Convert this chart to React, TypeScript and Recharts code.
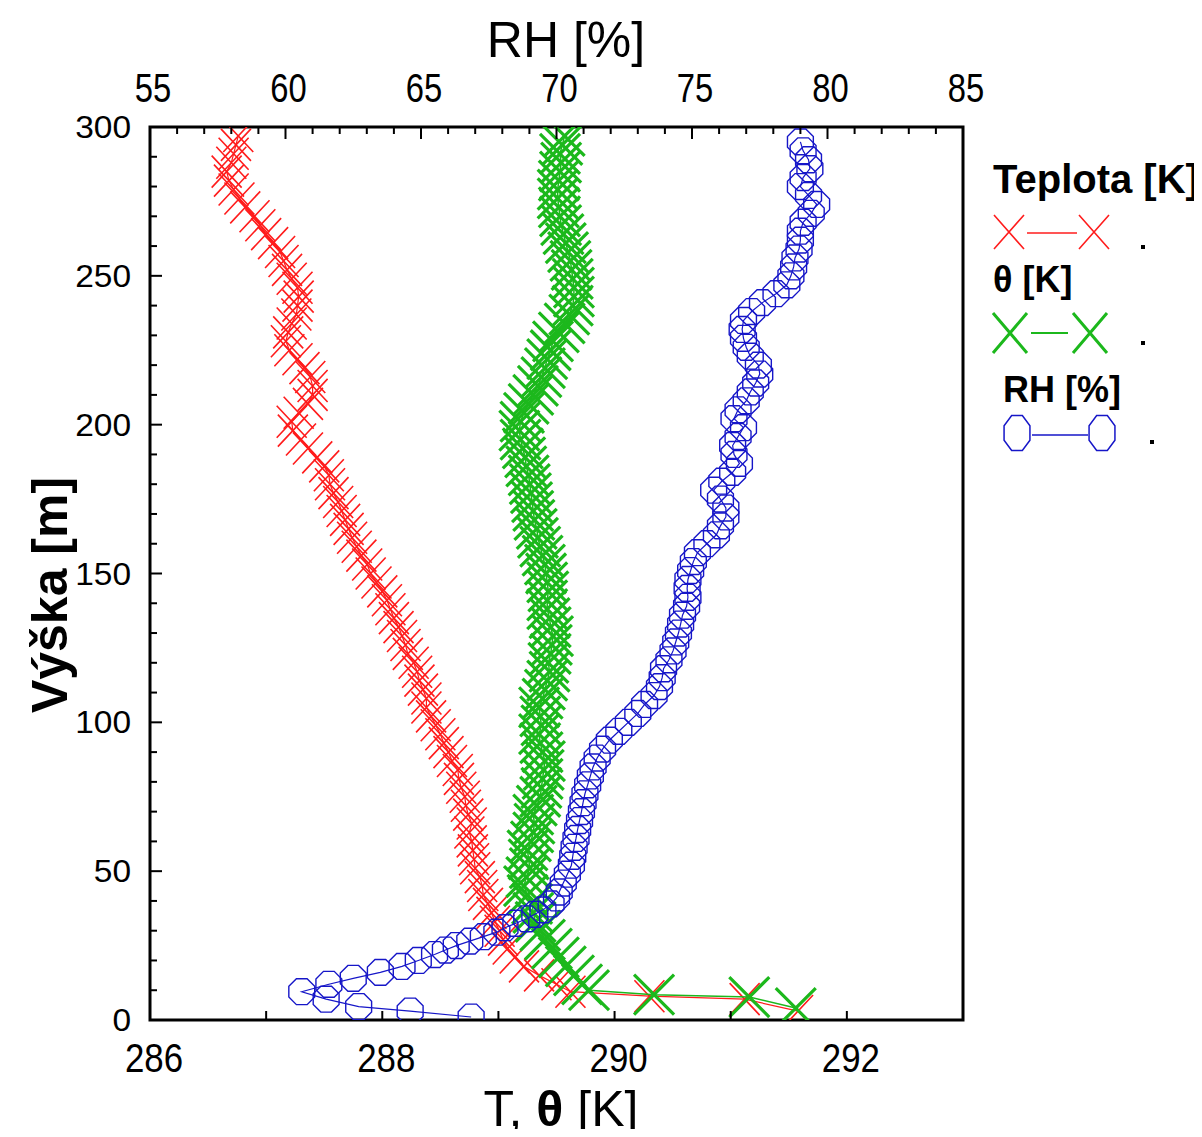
import React from 'react';
import { ScatterChart, Scatter, XAxis, YAxis, ReferenceArea } from 'recharts';

// heights [m] of the sounding above the surface layer (shared by T and theta)
const PROFILE_HEIGHTS = [
  12, 15, 18, 21, 24, 27, 30, 33, 36, 39, 42, 45, 48, 51, 54, 57, 60, 63, 66, 69,
  72, 75, 78, 81, 84, 87, 90, 93, 96, 99, 102, 105, 108, 111, 114, 117, 120, 123, 126, 129,
  132, 135, 138, 141, 144, 147, 150, 153, 156, 159, 162, 165, 168, 171, 174, 177, 180, 183, 186, 189,
  192, 195, 198, 201, 204, 207, 210, 213, 216, 219, 222, 225, 228, 231, 234, 237, 240, 243, 246, 249,
  252, 255, 258, 261, 264, 267, 270, 273, 276, 279, 282, 285, 288, 291, 294, 297,
];

// Teplota [K]
const T_SURFACE_HEIGHTS = [3, 7, 8, 9.5];
const T_SURFACE = [291.58, 291.12, 290.3, 289.62];
const T_VALUES = [
  289.5, 289.35, 289.22, 289.14, 289.08, 289.04, 289.01, 288.97, 288.94, 288.91,
  288.87, 288.86, 288.84, 288.8, 288.79, 288.78, 288.77, 288.75, 288.77, 288.74,
  288.72, 288.71, 288.68, 288.66, 288.65, 288.6, 288.57, 288.53, 288.5, 288.46,
  288.42, 288.38, 288.38, 288.35, 288.32, 288.3, 288.27, 288.22, 288.2, 288.17,
  288.14, 288.1, 288.07, 288.04, 288.0, 287.95, 287.9, 287.87, 287.82, 287.78,
  287.74, 287.71, 287.68, 287.65, 287.62, 287.58, 287.55, 287.54, 287.5, 287.44,
  287.36, 287.3, 287.23, 287.22, 287.28, 287.36, 287.4, 287.4, 287.38, 287.33,
  287.27, 287.2, 287.17, 287.19, 287.22, 287.26, 287.27, 287.28, 287.27, 287.22,
  287.18, 287.15, 287.12, 287.06, 287.0, 286.95, 286.9, 286.82, 286.77, 286.72,
  286.68, 286.66, 286.7, 286.72, 286.74, 286.76,
];

// theta [K]
const THETA_SURFACE_HEIGHTS = [4, 7.7, 8.5, 10];
const THETA_SURFACE = [291.56, 291.16, 290.34, 289.78];
const THETA_VALUES = [
  289.72, 289.65, 289.58, 289.52, 289.46, 289.4, 289.36, 289.32, 289.3, 289.29,
  289.25, 289.22, 289.24, 289.27, 289.26, 289.25, 289.28, 289.3, 289.31, 289.3,
  289.33, 289.36, 289.37, 289.38, 289.39, 289.4, 289.38, 289.36, 289.35, 289.37,
  289.36, 289.35, 289.38, 289.4, 289.42, 289.44, 289.43, 289.45, 289.46, 289.47,
  289.45, 289.44, 289.42, 289.42, 289.43, 289.42, 289.41, 289.4, 289.38, 289.36,
  289.34, 289.33, 289.31, 289.3, 289.29, 289.28, 289.27, 289.26, 289.24, 289.23,
  289.21, 289.19, 289.18, 289.19, 289.22, 289.26, 289.3, 289.34, 289.37, 289.4,
  289.42, 289.45, 289.47, 289.52, 289.57, 289.61, 289.64, 289.65, 289.65, 289.64,
  289.63, 289.62, 289.6, 289.58, 289.56, 289.54, 289.53, 289.52, 289.51, 289.51,
  289.52, 289.53, 289.54, 289.53, 289.55, 289.57,
];

// RH [%]
const RH_HEIGHTS = [
  1, 3, 4.5, 7, 9.5, 12, 14, 16, 18, 20, 22, 23.5, 25, 26.5, 28, 29.5, 31, 32.5, 34, 35.5,
  37, 39, 41, 43, 46, 49, 52, 55, 58, 61, 64, 67, 70, 73, 76, 79, 82, 85, 88, 91,
  94, 97, 100, 103, 106, 109, 112, 115, 118, 121, 124, 127, 130, 133, 136, 139, 142, 145, 148, 151,
  154, 157, 160, 163, 166, 169, 172, 175, 178, 181, 184, 187, 190, 193, 196, 199, 202, 205, 208, 211,
  214, 217, 220, 223, 226, 229, 232, 235, 238, 241, 244, 247, 250, 253, 256, 259, 262, 265, 268, 271,
  274, 277, 280, 283, 286, 289, 292, 295,
];
const RH_VALUES = [
  66.85, 64.6, 62.7, 61.5, 60.6, 61.6, 62.5, 63.5, 64.3, 64.9, 65.5, 65.9, 66.3, 66.8, 67.3, 67.8, 68.1, 68.5, 68.9, 69.2,
  69.5, 69.8, 70.0, 70.1, 70.25, 70.4, 70.55, 70.6, 70.65, 70.72, 70.78, 70.85, 70.92, 70.98, 71.05, 71.15, 71.25, 71.35, 71.5, 71.7,
  71.95, 72.3, 72.65, 73.0, 73.25, 73.6, 73.8, 73.9, 73.95, 74.15, 74.3, 74.4, 74.5, 74.58, 74.65, 74.8, 74.85, 74.82, 74.85, 74.95,
  75.05, 75.2, 75.55, 75.9, 76.05, 76.25, 76.25, 76.05, 75.8, 76.1, 76.5, 76.75, 76.55, 76.5, 76.7, 76.9, 76.55, 76.7, 77.0, 77.15,
  77.35, 77.5, 77.45, 77.15, 77.0, 76.9, 76.85, 76.9, 77.2, 77.6, 78.1, 78.5, 78.65, 78.75, 78.8, 78.95, 79.0, 79.0, 79.1, 79.4,
  79.6, 79.3, 79.0, 79.1, 79.35, 79.3, 79.1, 79.0,
];

const T_TICKS = [286, 287, 288, 289, 290, 291, 292, 293];
const RH_TICKS = [
  55, 56, 57, 58, 59, 60, 61, 62, 63, 64, 65, 66, 67, 68, 69, 70,
  71, 72, 73, 74, 75, 76, 77, 78, 79, 80, 81, 82, 83, 84, 85,
];
const H_TICKS = [
  0, 10, 20, 30, 40, 50, 60, 70, 80, 90, 100, 110, 120, 130, 140, 150,
  160, 170, 180, 190, 200, 210, 220, 230, 240, 250, 260, 270, 280, 290, 300,
];

const FONT = '"Liberation Sans", Arial, Helvetica, sans-serif';
const RED = '#ff1c1c';
const GREEN = '#1cb81c';
const BLUE = '#1616c8';

const toPoints = (heights: number[], values: number[]) =>
  heights.map((h, i) => ({ h, v: values[i] }));

const tempData = toPoints([...T_SURFACE_HEIGHTS, ...PROFILE_HEIGHTS], [...T_SURFACE, ...T_VALUES]);
const thetaData = toPoints([...THETA_SURFACE_HEIGHTS, ...PROFILE_HEIGHTS], [...THETA_SURFACE, ...THETA_VALUES]);
const rhData = toPoints(RH_HEIGHTS, RH_VALUES);

const crossPath = (cx: number, cy: number, hw: number, hh: number) =>
  `M${cx - hw},${cy - hh}L${cx + hw},${cy + hh}M${cx - hw},${cy + hh}L${cx + hw},${cy - hh}`;

const octagonPoints = (cx: number, cy: number, rx: number, ry: number) => {
  const pts: string[] = [];
  for (let i = 0; i < 8; i++) {
    const a = (Math.PI / 4) * i + Math.PI / 8;
    pts.push(`${cx + rx * Math.cos(a)},${cy + ry * Math.sin(a)}`);
  }
  return pts.join(' ');
};

const RedCross = (p: any) => (
  <path d={crossPath(p.cx, p.cy, 15, 16)} stroke={RED} strokeWidth={1.6} fill="none" />
);
const GreenCross = (p: any) => (
  <path d={crossPath(p.cx, p.cy, 20, 20)} stroke={GREEN} strokeWidth={3.2} fill="none" />
);
const BlueOctagon = (p: any) => (
  <polygon points={octagonPoints(p.cx, p.cy, 14, 14)} stroke={BLUE} strokeWidth={1.4} fill="none" />
);

const BottomTick = ({ x, y, payload }: any) => {
  const v = payload.value;
  return (
    <g>
      <line x1={x} y1={y} x2={x} y2={y - 9} stroke="#000" strokeWidth={2} />
      {v % 2 === 0 && v < 293 && (
        <text transform={`translate(${x + 4},${y + 52}) scale(0.85,1)`} textAnchor="middle"
          fontSize={41} fontFamily={FONT} fill="#000">{v}</text>
      )}
    </g>
  );
};

const TopTick = ({ x, y, payload }: any) => {
  const v = payload.value;
  const major = v % 5 === 0;
  return (
    <g>
      <line x1={x} y1={y} x2={x} y2={y + (major ? 12 : 7)} stroke="#000" strokeWidth={2} />
      {major && (
        <text transform={`translate(${x + 3},${y - 25}) scale(0.82,1)`} textAnchor="middle"
          fontSize={40} fontFamily={FONT} fill="#000">{v}</text>
      )}
    </g>
  );
};

const LeftTick = ({ x, y, payload }: any) => {
  const v = payload.value;
  const major = v % 50 === 0;
  return (
    <g>
      <line x1={x} y1={y} x2={x + (major ? 12 : 7)} y2={y} stroke="#000" strokeWidth={2} />
      {major && (
        <text transform={`translate(${x - 19},${y + 11}) scale(1.08,1)`} textAnchor="end"
          fontSize={31} fontFamily={FONT} fill="#000">{v}</text>
      )}
    </g>
  );
};

export default function App() {
  return (
    <div style={{ position: 'relative', width: 1186, height: 1121, background: '#fff' }}>
      <ScatterChart width={1180} height={1120} margin={{ top: 0, right: 225, bottom: 0, left: 0 }}>
        <XAxis xAxisId="t" type="number" dataKey="v" orientation="bottom" domain={[286, 293]}
          ticks={T_TICKS} interval={0} height={108} tickSize={0} tickMargin={0}
          axisLine={false} tickLine={false} tick={<BottomTick />} allowDataOverflow />
        <XAxis xAxisId="rh" type="number" dataKey="v" orientation="top" domain={[55, 85]}
          ticks={RH_TICKS} interval={0} height={119} tickSize={0} tickMargin={0}
          axisLine={false} tickLine={false} tick={<TopTick />} allowDataOverflow />
        <YAxis yAxisId="h" type="number" dataKey="h" domain={[0, 300]} ticks={H_TICKS}
          interval={0} width={142} tickSize={0} tickMargin={0}
          axisLine={false} tickLine={false} tick={<LeftTick />} allowDataOverflow />
        <Scatter name="Teplota [K]" data={tempData} xAxisId="t" yAxisId="h"
          line={{ stroke: RED, strokeWidth: 1.2 }} lineType="joint" shape={RedCross}
          isAnimationActive={false} />
        <Scatter name="θ [K]" data={thetaData} xAxisId="t" yAxisId="h"
          line={{ stroke: GREEN, strokeWidth: 1.5 }} lineType="joint" shape={GreenCross}
          isAnimationActive={false} />
        <Scatter name="RH [%]" data={rhData} xAxisId="rh" yAxisId="h"
          line={{ stroke: BLUE, strokeWidth: 1.2 }} lineType="joint" shape={BlueOctagon}
          isAnimationActive={false} />
        <ReferenceArea xAxisId="t" yAxisId="h" x1={286} x2={293} y1={0} y2={300}
          fill="none" stroke="#000" strokeWidth={3} />
      </ScatterChart>

      <svg width={1186} height={1121} fontFamily={FONT}
        style={{ position: 'absolute', left: 0, top: 0, pointerEvents: 'none', overflow: 'visible' }}>
        <text x={558} y={49} textAnchor="middle" fontSize={50} fill="#000">RH [%]</text>
        <text x={553} y={1118} textAnchor="middle" fontSize={50} fill="#000">
          T, <tspan fontWeight="bold">θ</tspan> [K]
        </text>
        <text transform="translate(59,587) rotate(-90)" textAnchor="middle" fontSize={50}
          fontWeight="bold" fill="#000">
          Výška [m]
        </text>

        {/* legend */}
        <text x={985} y={185} fontSize={40} fontWeight="bold" fill="#000">Teplota [K]</text>
        <path d={crossPath(1001, 224, 15, 17)} stroke={RED} strokeWidth={1.6} fill="none" />
        <path d={crossPath(1086, 224, 15, 17)} stroke={RED} strokeWidth={1.6} fill="none" />
        <line x1={1019} y1={225} x2={1069} y2={225} stroke={RED} strokeWidth={1.6} />
        <rect x={1133} y={237} width={4} height={4} fill="#000" />

        <text x={985} y={284} fontSize={36} fontWeight="bold" fill="#000">θ [K]</text>
        <path d={crossPath(1002, 325, 17, 20)} stroke={GREEN} strokeWidth={3} fill="none" />
        <path d={crossPath(1082, 325, 17, 20)} stroke={GREEN} strokeWidth={3} fill="none" />
        <line x1={1023} y1={325} x2={1060} y2={325} stroke={GREEN} strokeWidth={2} />
        <rect x={1133} y={333} width={4} height={4} fill="#000" />

        <text x={995} y={394} fontSize={36} fontWeight="bold" fill="#000">RH [%]</text>
        <polygon points={octagonPoints(1009, 425, 14, 19)} stroke={BLUE} strokeWidth={1.5} fill="none" />
        <polygon points={octagonPoints(1094, 425, 14, 19)} stroke={BLUE} strokeWidth={1.5} fill="none" />
        <line x1={1024} y1={427} x2={1080} y2={427} stroke={BLUE} strokeWidth={1.5} />
        <rect x={1142} y={432} width={4} height={4} fill="#000" />
      </svg>
    </div>
  );
}
